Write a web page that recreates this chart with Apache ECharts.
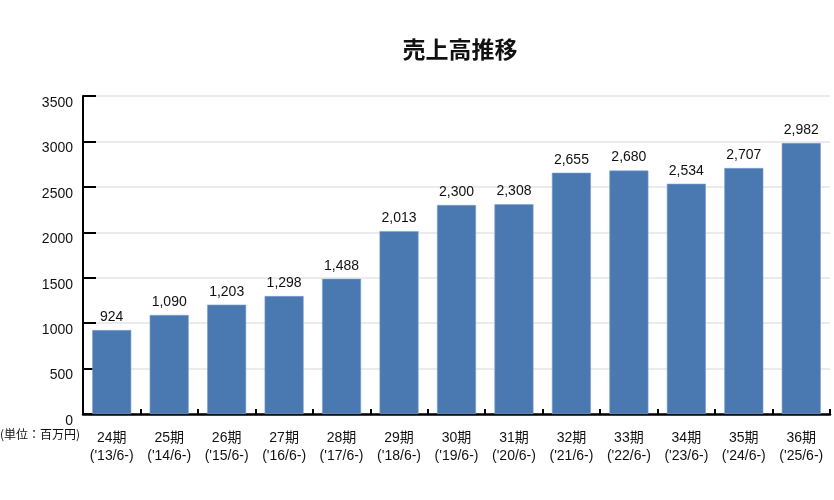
<!DOCTYPE html>
<html>
<head>
<meta charset="utf-8">
<script src="https://cdn.jsdelivr.net/npm/echarts@6/dist/echarts.min.js"></script>
<style>html,body{margin:0;padding:0;background:#fff;}#c{width:834px;height:500px;}</style>
</head>
<body>
<div id="c"></div>
<script>
const periods = ['24期','25期','26期','27期','28期','29期','30期','31期','32期','33期','34期','35期','36期'];
const startMonths = ["('13/6-)","('14/6-)","('15/6-)","('16/6-)","('17/6-)","('18/6-)","('19/6-)","('20/6-)","('21/6-)","('22/6-)","('23/6-)","('24/6-)","('25/6-)"];
const sales = [924, 1090, 1203, 1298, 1488, 2013, 2300, 2308, 2655, 2680, 2534, 2707, 2982];
const yTicks = [0, 500, 1000, 1500, 2000, 2500, 3000, 3500];

const FONT = '"Liberation Sans", Arial, "Noto Sans CJK JP", sans-serif';
const categories = periods.map((p, i) => p + '\n' + startMonths[i]);

const chart = echarts.init(document.getElementById('c'), null, {renderer: 'canvas'});
chart.setOption({
  animation: false,
  backgroundColor: '#fff',
  textStyle: {fontFamily: FONT},
  title: {
    text: '売上高推移',
    left: 455,
    top: 33,
    textAlign: 'center',
    textStyle: {fontSize: 23, fontWeight: 'bold', color: '#111', fontFamily: '"Noto Sans CJK JP", sans-serif'}
  },
  grid: {left: 83, right: 4, top: 96, bottom: 86, containLabel: false},
  xAxis: {
    type: 'category',
    data: categories,
    axisLine: {show: true, lineStyle: {color: '#000', width: 2.5}},
    axisTick: {show: true, inside: true, length: 5, lineStyle: {color: '#000', width: 2}},
    axisLabel: {
      color: '#111', fontSize: 14, lineHeight: 18, margin: 15,
      fontFamily: FONT, interval: 0
    },
    splitLine: {show: false}
  },
  yAxis: {
    type: 'value',
    min: yTicks[0],
    max: yTicks[yTicks.length - 1],
    interval: yTicks[1] - yTicks[0],
    axisLine: {show: true, lineStyle: {color: '#000', width: 2}},
    axisTick: {show: true, inside: true, length: 13, lineStyle: {color: '#000', width: 2}},
    axisLabel: {
      color: '#111', fontSize: 14, margin: 10, verticalAlign: 'top', fontFamily: FONT,
      formatter: v => String(v)
    },
    splitLine: {show: true, lineStyle: {color: '#ebebeb', width: 2}}
  },
  graphic: [{
    type: 'text',
    left: 0,
    top: 428,
    style: {text: '(単位：百万円)', fontSize: 12, fill: '#111', fontFamily: '"Noto Sans CJK JP", sans-serif'}
  }],
  series: [{
    type: 'bar',
    data: sales,
    barWidth: 39,
    itemStyle: {color: '#4a79b2', borderColor: '#7b9fcb', borderWidth: 0.6},
    label: {
      show: true,
      position: 'top',
      distance: 6,
      color: '#111',
      fontSize: 14,
      fontFamily: FONT,
      formatter: p => p.value.toLocaleString('en-US')
    }
  }]
});
</script>
</body>
</html>
